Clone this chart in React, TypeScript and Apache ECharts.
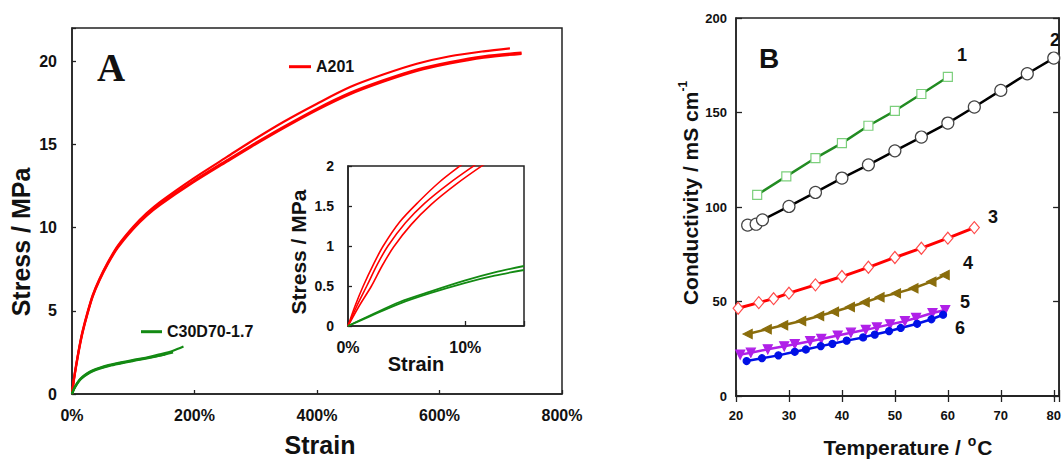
import React, { useEffect, useRef } from "react";
import * as echarts from "echarts";

// ---------- Panel A : stress (MPa) vs strain (%) ----------
const a201StrainA = [0, 3, 6.5, 12, 17.4, 25.6, 33.8, 44.6, 58.3, 74.6, 100, 122, 144, 198, 253, 291, 345, 400, 454, 508, 563, 617, 672, 715];
const a201StressA = [0, 0.88, 1.7, 2.85, 3.8, 4.95, 5.95, 6.9, 7.9, 8.9, 10.05, 10.87, 11.55, 12.95, 14.25, 15.15, 16.35, 17.45, 18.45, 19.2, 19.85, 20.3, 20.6, 20.78];
const a201StrainB = [0, 3, 6.5, 12, 17.4, 25.6, 33.8, 44.6, 58.3, 74.6, 100, 122, 144, 198, 253, 291, 345, 400, 454, 508, 563, 617, 672, 734];
const a201StressB = [0, 0.85, 1.65, 2.8, 3.75, 4.9, 5.9, 6.85, 7.85, 8.85, 10.0, 10.8, 11.45, 12.8, 14.05, 14.9, 16.05, 17.15, 18.1, 18.85, 19.5, 19.95, 20.3, 20.52];
const a201StrainC = [0, 3, 6.5, 12, 17.4, 25.6, 33.8, 44.6, 58.3, 74.6, 100, 122, 144, 198, 253, 291, 345, 400, 454, 508, 563, 617, 672, 734];
const a201StressC = [0, 0.8, 1.6, 2.75, 3.7, 4.85, 5.85, 6.8, 7.8, 8.78, 9.92, 10.72, 11.37, 12.72, 13.97, 14.82, 15.97, 17.07, 18.02, 18.77, 19.42, 19.87, 20.22, 20.45];

const c30StrainA = [0, 3, 6.5, 12, 17.4, 25, 34, 45, 61, 80, 99, 120, 143, 165, 182];
const c30StressA = [0, 0.3, 0.55, 0.85, 1.05, 1.25, 1.43, 1.58, 1.75, 1.9, 2.04, 2.18, 2.38, 2.6, 2.85];
const c30StrainB = [0, 3, 6.5, 12, 17.4, 25, 34, 45, 61, 80, 99, 120, 143, 165];
const c30StressB = [0, 0.27, 0.5, 0.8, 0.99, 1.19, 1.37, 1.52, 1.69, 1.84, 1.98, 2.12, 2.3, 2.5];
const c30StrainC = [0, 3, 6.5, 12, 17.4, 25, 34, 45, 61, 80, 99, 120, 152];
const c30StressC = [0, 0.28, 0.52, 0.82, 1.02, 1.22, 1.4, 1.55, 1.72, 1.87, 2.01, 2.15, 2.38];

// inset (low-strain zoom of the same tests)
const insetA201StrainA = [0, 0.6, 1.3, 2.2, 3.0, 4.4, 6.0, 7.8, 9.8, 11];
const insetA201StressA = [0, 0.25, 0.5, 0.78, 1.0, 1.3, 1.55, 1.8, 2.03, 2.17];
const insetA201StrainB = [0, 0.75, 1.6, 2.5, 3.4, 4.9, 6.5, 8.6, 10.9, 12];
const insetA201StressB = [0, 0.25, 0.5, 0.77, 1.0, 1.29, 1.53, 1.78, 2.02, 2.13];
const insetA201StrainC = [0, 0.95, 2.0, 2.9, 3.9, 5.4, 7.1, 9.2, 11.5, 12.5];
const insetA201StressC = [0, 0.25, 0.5, 0.75, 0.99, 1.27, 1.52, 1.77, 2.01, 2.1];
const insetC30StrainA = [0, 2, 4.4, 7, 10, 12.5, 15];
const insetC30StressA = [0, 0.14, 0.3, 0.43, 0.57, 0.67, 0.75];
const insetC30StrainB = [0, 2, 4.4, 7, 10, 12.5, 15];
const insetC30StressB = [0, 0.13, 0.28, 0.41, 0.54, 0.63, 0.7];

const strainTicksMain = { min: 0, max: 800, interval: 200 };
const stressTicksMain = { min: 0, max: 22, interval: 5 };
const strainTicksInset = { min: 0, max: 15, interval: 10 };
const stressTicksInset = { min: 0, max: 2, interval: 0.5 };

// ---------- Panel B : conductivity (mS/cm) vs temperature (°C) ----------
const temp1 = [24, 29.5, 35, 40, 45, 50, 55, 60];
const cond1 = [106.4, 116.2, 125.9, 133.8, 143.0, 150.9, 159.8, 168.8];
const temp2 = [22.2, 23.8, 25, 30, 35, 40, 45, 50, 55, 60, 65, 70, 75, 80];
const cond2 = [90.4, 90.9, 93.2, 100.3, 107.7, 115.3, 122.3, 129.7, 137.0, 144.4, 152.9, 161.7, 170.5, 178.8];
const temp3 = [20.4, 24.3, 27.1, 30, 35, 40, 45, 50, 55, 60, 65];
const cond3 = [46.4, 49.4, 51.5, 54.4, 58.8, 63.2, 68.1, 73.3, 78.2, 83.5, 89.1];
const temp4 = [22.2, 25.8, 28.9, 32.3, 35.7, 38.5, 41.5, 44.3, 47.1, 50.2, 53.5, 56.9, 59.4];
const cond4 = [32.8, 35.3, 37.4, 39.7, 42.3, 44.6, 47.1, 49.6, 52.2, 54.3, 57.0, 60.5, 64.0];
const temp5 = [20.8, 22.8, 26.0, 29.1, 31.1, 34.0, 36.1, 39.2, 41.7, 44.5, 46.6, 49.1, 51.9, 54.0, 57.1, 59.5];
const cond5 = [21.9, 22.9, 24.7, 26.3, 27.4, 29.0, 30.2, 32.0, 33.5, 35.0, 36.3, 37.9, 39.6, 41.3, 43.9, 45.5];
const temp6 = [22.0, 24.9, 28.0, 31.1, 33.2, 36.0, 38.2, 40.9, 44.0, 46.2, 48.9, 51.1, 54.2, 56.9, 59.1];
const cond6 = [18.5, 20.0, 21.5, 23.4, 24.6, 26.4, 27.6, 29.3, 31.0, 32.5, 34.3, 36.0, 38.2, 40.6, 43.0];

const tempTicks = { min: 20, max: 81, interval: 10 };
const condTicks = { min: 0, max: 200, interval: 50 };
const seriesLabelsB = ["1", "2", "3", "4", "5", "6"];

const FONT = '"Liberation Sans", Arial, sans-serif';
const RED = "#ff0000";
const GREEN = "#138a13";

const pairs = (xs: number[], ys: number[]) => xs.map((x, i) => [x, ys[i]]);

function App() {
  const ref = useRef<HTMLDivElement>(null);

  useEffect(() => {
    if (!ref.current) return;
    const chart = echarts.init(ref.current, undefined, { renderer: "svg" });

    const frameLine = { show: true, lineStyle: { color: "#222", width: 1.5 } };
    const tickIn = (len: number) => ({ show: true, inside: true, length: len, lineStyle: { color: "#222", width: 1.3 } });
    const lbl = (size: number, margin: number, formatter?: any) => ({
      show: true,
      fontFamily: FONT,
      fontWeight: "bold" as const,
      fontSize: size,
      color: "#111",
      margin,
      formatter,
    });

    const mainLine = (name: string, xs: number[], ys: number[], color: string, width: number, xi: number, yi: number) => ({
      type: "line",
      name,
      data: pairs(xs, ys),
      xAxisIndex: xi,
      yAxisIndex: yi,
      symbol: "none",
      smooth: 0.3,
      lineStyle: { color, width },
      itemStyle: { color },
      clip: true,
      silent: true,
    });

    const bSeries = (
      xs: number[], ys: number[], lineColor: string, symbol: string, size: any,
      fill: string, border: string, rotate = 0, lw = 2.5
    ) => ({
      type: "line",
      data: pairs(xs, ys),
      xAxisIndex: 2,
      yAxisIndex: 2,
      symbol,
      symbolSize: size,
      symbolRotate: rotate,
      showAllSymbol: true,
      lineStyle: { color: lineColor, width: lw },
      itemStyle: { color: fill, borderColor: border, borderWidth: 1.2 },
      silent: true,
    });

    const title = (text: string, x: number, y: number, size: number, rot = 0, rich?: any) => ({
      type: "text",
      x,
      y,
      rotation: rot,
      style: {
        text,
        fontFamily: FONT,
        fontWeight: "bold",
        fontSize: size,
        fill: "#111",
        align: "center",
        verticalAlign: "middle",
        rich,
      },
    });

    const labelPos = [
      [962, 55], [1055, 40], [993, 217], [968, 263], [965, 302], [960, 328],
    ];

    chart.setOption({
      animation: false,
      backgroundColor: "#fff",
      grid: [
        { left: 72, top: 28, width: 490, height: 366, show: true, borderColor: "#222", borderWidth: 1.5, backgroundColor: "transparent" },
        { left: 348, top: 166, width: 176, height: 160, show: true, borderColor: "#222", borderWidth: 1.5, backgroundColor: "#fff" },
        { left: 736, top: 18, width: 330.4, height: 378, show: true, borderColor: "#222", borderWidth: 1.5, backgroundColor: "transparent" },
      ],
      legend: [
        {
          data: ["A201"], left: 289, top: 58.7, padding: 0, icon: "rect", itemWidth: 22, itemHeight: 3,
          textStyle: { fontFamily: FONT, fontWeight: "bold", fontSize: 16, color: "#111", lineHeight: 16 },
          selectedMode: false,
        },
        {
          data: ["C30D70-1.7"], left: 141, top: 323.7, padding: 0, icon: "rect", itemWidth: 21, itemHeight: 3,
          textStyle: { fontFamily: FONT, fontWeight: "bold", fontSize: 16, color: "#111", lineHeight: 16 },
          selectedMode: false,
        },
      ],
      xAxis: [
        {
          gridIndex: 0, type: "value", ...strainTicksMain,
          axisLine: frameLine, axisTick: tickIn(4), splitLine: { show: false },
          axisLabel: lbl(16, 13, "{value}%"),
        },
        {
          gridIndex: 1, type: "value", ...strainTicksInset,
          axisLine: frameLine, axisTick: tickIn(5), splitLine: { show: false },
          axisLabel: lbl(16, 13, (v: number) => (v % 10 === 0 ? v + "%" : "")),
        },
        {
          gridIndex: 2, type: "value", ...tempTicks,
          axisLine: frameLine, axisTick: tickIn(6), splitLine: { show: false },
          axisLabel: lbl(13, 13, (v: number) => (v % 10 === 0 ? String(v) : "")),
        },
        {
          gridIndex: 2, type: "value", position: "top", ...tempTicks,
          axisLine: frameLine, axisTick: tickIn(6), splitLine: { show: false },
          axisLabel: { show: false },
        },
      ],
      yAxis: [
        {
          gridIndex: 0, type: "value", ...stressTicksMain,
          axisLine: frameLine, axisTick: tickIn(4), splitLine: { show: false },
          axisLabel: lbl(16, 15, (v: number) => (v % 5 === 0 ? String(v) : "")),
        },
        {
          gridIndex: 1, type: "value", ...stressTicksInset,
          axisLine: frameLine, axisTick: tickIn(4), splitLine: { show: false },
          axisLabel: lbl(14, 14),
        },
        {
          gridIndex: 2, type: "value", ...condTicks,
          axisLine: frameLine, axisTick: tickIn(6), splitLine: { show: false },
          axisLabel: lbl(13, 9),
        },
        {
          gridIndex: 2, type: "value", position: "right", ...condTicks,
          axisLine: frameLine, axisTick: tickIn(6), splitLine: { show: false },
          axisLabel: { show: false },
        },
      ],
      series: [
        mainLine("A201", a201StrainA, a201StressA, RED, 2.2, 0, 0),
        mainLine("A201", a201StrainB, a201StressB, RED, 2.2, 0, 0),
        mainLine("A201", a201StrainC, a201StressC, RED, 2.2, 0, 0),
        mainLine("C30D70-1.7", c30StrainA, c30StressA, GREEN, 2.2, 0, 0),
        mainLine("C30D70-1.7", c30StrainB, c30StressB, GREEN, 2.2, 0, 0),
        mainLine("C30D70-1.7", c30StrainC, c30StressC, GREEN, 2.2, 0, 0),
        mainLine("A201", insetA201StrainA, insetA201StressA, RED, 1.6, 1, 1),
        mainLine("A201", insetA201StrainB, insetA201StressB, RED, 1.6, 1, 1),
        mainLine("A201", insetA201StrainC, insetA201StressC, RED, 1.6, 1, 1),
        mainLine("C30D70-1.7", insetC30StrainA, insetC30StressA, GREEN, 1.8, 1, 1),
        mainLine("C30D70-1.7", insetC30StrainB, insetC30StressB, GREEN, 1.8, 1, 1),
        bSeries(temp2, cond2, "#000000", "circle", 12, "#ffffff", "#444444"),
        bSeries(temp1, cond1, "#228b22", "rect", 9, "#ffffff", "#7ccf7c"),
        bSeries(temp3, cond3, "#ff0000", "diamond", [10, 12], "#ffffff", "#ff4a4a", 0, 3),
        bSeries(temp4, cond4, "#8a6d0c", "triangle", 9, "#8a6d0c", "#8a6d0c", 90),
        bSeries(temp5, cond5, "#b020e8", "triangle", 9, "#b020e8", "#b020e8", 180),
        bSeries(temp6, cond6, "#0010e6", "circle", 7, "#0010e6", "#0010e6"),
      ],
      graphic: [
        {
          type: "text", x: 97, y: 67,
          style: { text: "A", fontFamily: '"Liberation Serif", "Times New Roman", serif', fontWeight: "bold", fontSize: 39, fill: "#111", align: "left", verticalAlign: "middle" },
        },
        {
          type: "text", x: 759, y: 58,
          style: { text: "B", fontFamily: FONT, fontWeight: "bold", fontSize: 28, fill: "#111", align: "left", verticalAlign: "middle" },
        },
        title("Stress / MPa", 21, 242, 25, Math.PI / 2),
        title("Strain", 320, 445, 25),
        title("Stress / MPa", 298, 252, 21, Math.PI / 2),
        title("Strain", 416, 364, 20),
        title("{a|Temperature / }{s|o}{a|C}", 908, 446, 21, 0, {
          a: { fontFamily: FONT, fontWeight: "bold", fontSize: 21, fill: "#111", lineHeight: 24, verticalAlign: "bottom" },
          s: { fontFamily: FONT, fontWeight: "bold", fontSize: 14, fill: "#111", lineHeight: 24, verticalAlign: "top", padding: [0, 1, 0, 1] },
        }),
        title("{a|Conductivity / mS cm}{s|-1}", 689, 193, 21, Math.PI / 2, {
          a: { fontFamily: FONT, fontWeight: "bold", fontSize: 21, fill: "#111", lineHeight: 24, verticalAlign: "bottom" },
          s: { fontFamily: FONT, fontWeight: "bold", fontSize: 12, fill: "#111", lineHeight: 24, verticalAlign: "top" },
        }),
        ...seriesLabelsB.map((t, i) => ({
          type: "text", x: labelPos[i][0], y: labelPos[i][1],
          style: { text: t, fontFamily: FONT, fontWeight: "bold", fontSize: 18, fill: "#111", align: "center", verticalAlign: "middle" },
        })),
      ],
    });

    return () => chart.dispose();
  }, []);

  return <div ref={ref} style={{ position: "fixed", left: 0, top: 0, width: 1064, height: 459, background: "#fff" }} />;
}

export default App;
